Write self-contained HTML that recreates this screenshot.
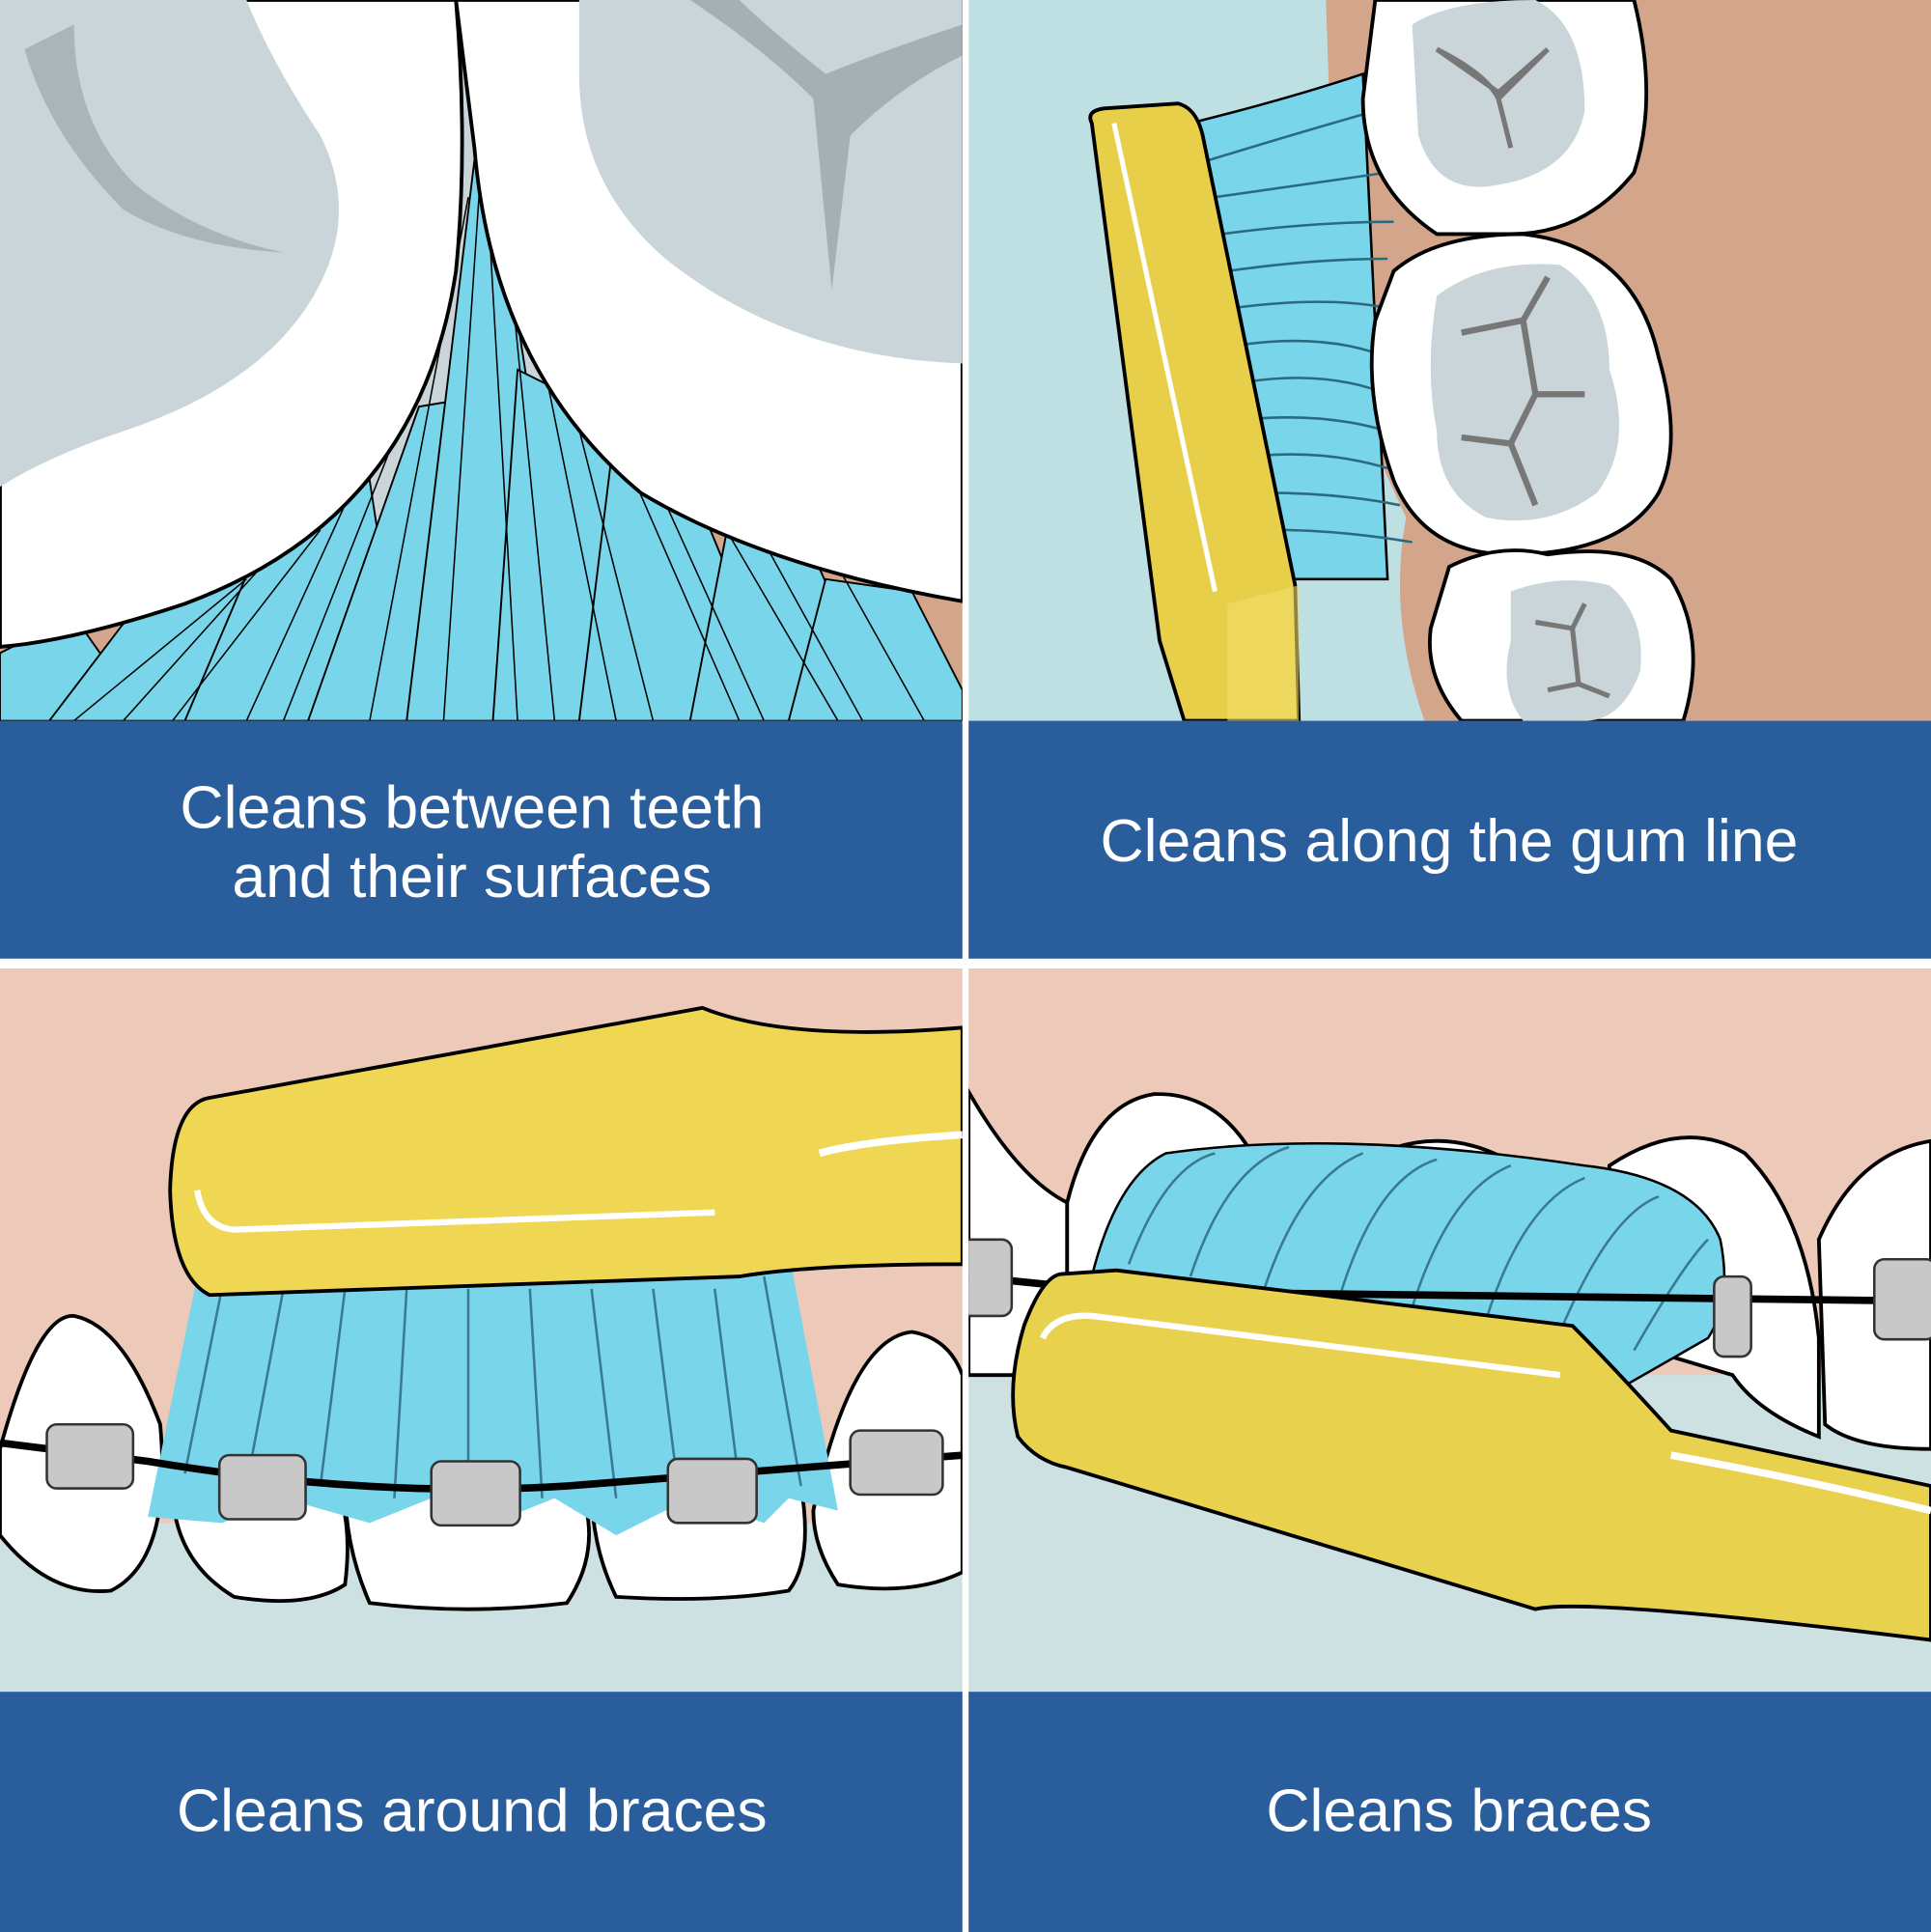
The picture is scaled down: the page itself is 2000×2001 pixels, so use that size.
<!DOCTYPE html>
<html><head><meta charset="utf-8"><style>
html,body{margin:0;padding:0;background:#fff}
svg{display:block}
text{font-family:"Liberation Sans",sans-serif;fill:#fff;font-size:49px}
</style></head><body>
<svg width="2000" height="2001" viewBox="0 0 1567 1568" preserveAspectRatio="none" xmlns="http://www.w3.org/2000/svg">
<rect width="1567" height="1568" fill="#fff"/>
<!-- TOP LEFT -->
<svg x="0" y="0" width="781" height="585" viewBox="0 0 781 585">
<rect width="781" height="585" fill="#c9d5d9"/>
<path d="M0 340 Q200 360 300 470 L420 585 L0 585Z" fill="#d3a68c"/>
<path d="M300 585 L380 300 L500 330 L781 470 L781 585Z" fill="#d3a68c"/>
<g fill="#79d5ea" stroke="#000" stroke-width="1.5">
<path d="M0 530 L60 500 L120 585 L0 585Z"/>
<path d="M40 585 L120 480 L200 470 L250 585Z"/>
<path d="M150 585 L220 420 L300 390 L330 585Z"/>
<path d="M250 585 L340 330 L400 320 L410 585Z"/>
<path d="M330 585 L385 130 L400 130 L470 585Z"/>
<path d="M400 585 L420 300 L480 330 L560 585Z"/>
<path d="M470 585 L500 340 L560 390 L640 585Z"/>
<path d="M560 585 L590 430 L660 450 L720 585Z"/>
<path d="M640 585 L670 470 L740 480 L781 560 L781 585Z"/>
</g>
<g stroke="#000" stroke-width="1.2" fill="none">
<path d="M60 585 L200 470 M100 585 L230 440 M140 585 L260 430 M200 585 L330 300 M230 585 L350 280 M300 585 L380 160 M360 585 L390 140 M420 585 L395 150 M450 585 L410 180 M500 585 L430 240 M530 585 L450 270 M600 585 L480 310 M620 585 L500 320 M680 585 L560 380 M700 585 L620 440 M750 585 L680 460"/>
</g>
<path d="M0 0 L370 0 Q380 120 370 220 Q340 420 150 490 Q60 520 0 525Z" fill="#fff" stroke="#000" stroke-width="3"/>
<path d="M0 0 L200 0 Q220 50 260 110 Q290 170 260 230 Q220 310 100 350 Q40 370 0 395Z" fill="#c9d5d9"/>
<path d="M20 40 Q40 110 100 170 Q150 200 230 205 Q160 190 110 150 Q60 100 60 20Z" fill="#9ea6a8" opacity=".7"/>
<path d="M370 0 L781 0 L781 488 Q620 460 520 400 Q400 300 385 120Z" fill="#fff" stroke="#000" stroke-width="3"/>
<path d="M470 0 L781 0 L781 295 Q640 290 540 210 Q470 150 470 60Z" fill="#c9d5d9"/>
<path d="M560 0 Q620 40 660 80 L675 235 L690 110 Q730 70 781 45 L781 20 Q720 40 670 60 Q620 20 600 0Z" fill="#9ea6a8" opacity=".8"/>
</svg>
<rect x="0" y="585" width="781" height="193" fill="#2a5d9c"/>
<text x="383" y="672" text-anchor="middle">Cleans between teeth</text>
<text x="383" y="728" text-anchor="middle">and their surfaces</text>

<!-- TOP RIGHT -->
<svg x="786" y="0" width="781" height="585" viewBox="0 0 781 585">
<rect width="781" height="585" fill="#bfe0e2"/>
<path d="M290 0 L781 0 L781 585 L370 585 Q340 500 355 420 L300 300Z" fill="#d3a68c"/>
<path d="M180 100 Q260 80 320 60 L340 470 Q300 470 230 470Z" fill="#79d5ea" stroke="#000" stroke-width="2"/>
<g stroke="#2a6a80" stroke-width="2" fill="none">
<path d="M195 130 Q260 110 330 90 M200 160 Q270 150 340 140 M205 190 Q280 180 345 180 M210 220 Q280 210 340 210 M215 250 Q290 240 340 250 M220 280 Q290 270 340 290 M225 310 Q290 300 340 320 M230 340 Q290 335 340 350 M235 370 Q290 365 340 380 M240 400 Q300 400 350 410 M245 430 Q300 430 360 440"/>
</g>
<path d="M330 0 L540 0 Q560 80 540 140 Q500 190 440 190 L380 190 Q320 150 320 80Z" fill="#fff" stroke="#000" stroke-width="3"/>
<path d="M360 20 Q390 0 460 0 Q500 20 500 90 Q490 140 430 150 Q380 160 365 110Z" fill="#c9d5d9"/>
<path d="M380 40 Q420 60 430 80 L440 120 L430 80 Q450 60 470 40 L430 75Z" stroke="#777" stroke-width="4" fill="none"/>
<path d="M345 220 Q380 190 450 190 Q540 200 560 290 Q580 360 560 400 Q530 450 440 450 Q370 450 345 390 Q320 320 330 260Z" fill="#fff" stroke="#000" stroke-width="3"/>
<path d="M380 240 Q420 210 480 215 Q520 240 520 300 Q540 360 510 400 Q470 430 420 420 Q380 400 380 350 Q370 300 380 240Z" fill="#c9d5d9"/>
<path d="M400 270 L450 260 L470 225 M450 260 L460 320 L500 320 M460 320 L440 360 L460 410 M440 360 L400 355" stroke="#777" stroke-width="5" fill="none"/>
<path d="M390 460 Q430 440 470 450 Q540 440 570 470 Q600 520 580 585 L400 585 Q370 550 375 510Z" fill="#fff" stroke="#000" stroke-width="3"/>
<path d="M440 480 Q480 465 520 475 Q550 500 545 545 Q530 585 500 585 L450 585 Q430 560 440 520Z" fill="#c9d5d9"/>
<path d="M460 505 L490 510 L500 490 M490 510 L495 555 L520 565 M495 555 L470 560" stroke="#777" stroke-width="4" fill="none"/>
<path d="M100 100 Q95 90 110 88 L170 84 Q185 88 190 110 L265 475 L268 585 L175 585 L155 520Z" fill="#e8cf4a" stroke="#000" stroke-width="3"/>
<path d="M118 100 L200 480" stroke="#fff" stroke-width="4"/>
<path d="M210 490 L268 475 L268 585 L210 585Z" fill="#f2dc6a" opacity=".6"/>
</svg>
<rect x="786" y="585" width="781" height="193" fill="#2a5d9c"/>
<text x="1176" y="699" text-anchor="middle">Cleans along the gum line</text>

<!-- BOTTOM LEFT -->
<svg x="0" y="786" width="781" height="587" viewBox="0 0 781 587">
<rect width="781" height="587" fill="#cde0e2"/>
<rect width="781" height="450" fill="#ecc9b8"/>
<g fill="#fff" stroke="#000" stroke-width="3">
<path d="M0 390 Q30 280 60 282 Q100 290 130 370 Q140 480 90 505 Q40 510 0 460Z"/>
<path d="M140 420 Q160 380 250 390 Q290 420 280 500 Q250 520 190 510 Q140 480 140 420Z"/>
<path d="M280 420 L470 420 Q490 470 460 515 Q380 525 300 515 Q280 470 280 420Z"/>
<path d="M480 420 L650 420 Q660 480 640 505 Q580 515 500 510 Q480 470 480 420Z"/>
<path d="M660 440 Q690 300 740 295 Q770 300 781 330 L781 490 Q740 510 680 500 Q660 470 660 440Z"/>
</g>
<path d="M160 250 L640 230 L680 440 L640 430 L620 450 L560 430 L500 460 L450 430 L400 450 L350 430 L300 450 L230 430 L180 450 L120 445 Z" fill="#79d5ea"/>
<g stroke="#3a7a90" stroke-width="2"><path d="M180 260 L150 410 M230 260 L200 420 M280 260 L260 420 M330 260 L320 430 M380 260 L380 430 M430 260 L440 430 M480 260 L500 430 M530 260 L550 420 M580 260 L600 420 M620 250 L650 420"/></g>
<path d="M0 385 L120 400 Q300 430 460 420 L781 395" stroke="#000" stroke-width="6" fill="none"/>
<g fill="#c8c8c8" stroke="#333" stroke-width="2">
<rect x="38" y="370" width="70" height="52" rx="8"/>
<rect x="178" y="395" width="70" height="52" rx="8"/>
<rect x="350" y="400" width="72" height="52" rx="8"/>
<rect x="542" y="398" width="72" height="52" rx="8"/>
<rect x="690" y="375" width="75" height="52" rx="8"/>
</g>
<path d="M170 105 L570 32 Q640 60 781 48 L781 240 Q660 240 600 250 L170 265 Q140 250 138 180 Q140 110 170 105Z" fill="#efd653" stroke="#000" stroke-width="3"/>
<path d="M160 180 Q165 210 190 212 L580 198" stroke="#fff" stroke-width="5" fill="none"/>
<path d="M665 150 Q700 140 781 135" stroke="#fff" stroke-width="6" fill="none"/>
</svg>
<rect x="0" y="1373" width="781" height="195" fill="#2a5d9c"/>
<text x="383" y="1486" text-anchor="middle">Cleans around braces</text>

<!-- BOTTOM RIGHT -->
<svg x="786" y="786" width="781" height="587" viewBox="0 0 781 587">
<rect width="781" height="587" fill="#cde0e2"/>
<rect width="781" height="330" fill="#ecc9b8"/>
<g fill="#fff" stroke="#000" stroke-width="3">
<path d="M0 100 Q40 170 80 190 L80 330 L0 330Z"/>
<path d="M80 190 Q100 110 150 102 Q200 100 230 150 L230 320 L80 320Z"/>
<path d="M300 170 Q380 110 460 170 L460 300 L300 300Z"/>
<path d="M520 160 Q580 120 630 150 Q680 200 690 300 L690 380 Q640 360 620 330 L520 300Z"/>
<path d="M690 220 Q720 150 781 140 L781 390 Q720 390 695 370Z"/>
</g>
<path d="M100 250 Q120 170 160 150 Q300 130 500 160 Q590 170 610 220 Q620 270 600 300 L530 340 L100 260Z" fill="#79d5ea" stroke="#000" stroke-width="2"/>
<g stroke="#3a7a90" stroke-width="2" fill="none"><path d="M130 240 Q160 160 200 150 M180 250 Q210 160 260 145 M240 260 Q270 170 320 150 M300 270 Q330 170 380 155 M360 275 Q390 180 440 160 M420 285 Q450 190 500 170 M480 295 Q520 200 560 185 M540 310 Q580 240 600 220"/></g>
<path d="M0 250 L120 262 L781 270" stroke="#000" stroke-width="6" fill="none"/>
<g fill="#c8c8c8" stroke="#333" stroke-width="2">
<rect x="-10" y="220" width="45" height="62" rx="8"/>
<rect x="605" y="250" width="30" height="65" rx="8"/>
<rect x="735" y="236" width="50" height="65" rx="8"/>
</g>
<path d="M75 248 Q60 250 45 290 Q30 340 40 380 Q55 400 80 405 L460 520 Q500 510 781 545 L781 420 Q640 390 570 375 Q520 320 490 290 L120 245Z" fill="#e8d24d" stroke="#000" stroke-width="3"/>
<path d="M60 300 Q70 280 100 282 L480 330" stroke="#fff" stroke-width="5" fill="none"/>
<path d="M570 395 Q680 415 781 440" stroke="#fff" stroke-width="6" fill="none"/>
</svg>
<rect x="786" y="1373" width="781" height="195" fill="#2a5d9c"/>
<text x="1184" y="1486" text-anchor="middle">Cleans braces</text>
</svg>
</body></html>
